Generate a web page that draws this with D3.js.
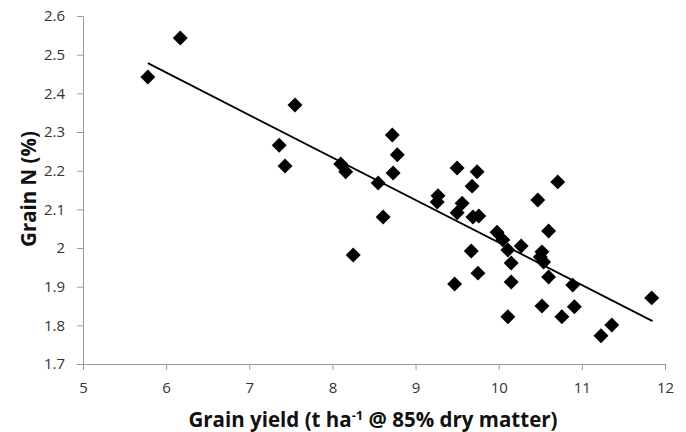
<!DOCTYPE html>
<html>
<head>
<meta charset="utf-8">
<script src="https://cdn.jsdelivr.net/npm/d3@7"></script>
<style>
  body { margin: 0; background: #fff; }
  .tick text { font-family: "Open Sans", "Liberation Sans", sans-serif; font-size: 15px; fill: #333; }
  .title { font-family: "Open Sans", "Liberation Sans", sans-serif; font-size: 20.5px; font-weight: bold; fill: #111; }
</style>
</head>
<body>
<div id="chart"></div>
<script>
var svgWidth = 686;
var svgHeight = 432;

// grain yield (t/ha) and grain N (%)
var grainYield = [5.78, 6.17, 7.55, 7.36, 7.43, 8.10, 8.16, 8.25, 8.72, 8.78, 8.73, 8.55, 8.61,
    9.50, 9.74, 9.68, 9.27, 9.26, 9.56, 9.50, 9.69, 9.76, 10.71, 10.47, 9.98, 10.05, 10.11,
    10.27, 10.60, 10.52, 10.50, 10.54, 9.67, 10.15, 9.75, 10.60, 10.89, 9.47, 10.15, 10.52,
    10.91, 10.11, 10.76, 11.36, 11.23, 11.84];
var grainN = [2.442, 2.543, 2.370, 2.266, 2.212, 2.217, 2.197, 1.982, 2.292, 2.241, 2.194, 2.168, 2.080,
    2.207, 2.197, 2.160, 2.135, 2.119, 2.116, 2.091, 2.080, 2.083, 2.171, 2.124, 2.041, 2.021, 1.995,
    2.005, 2.044, 1.990, 1.977, 1.964, 1.992, 1.961, 1.935, 1.925, 1.904, 1.907, 1.912, 1.850,
    1.848, 1.822, 1.822, 1.801, 1.773, 1.871];

// linear trend line ends
var trendX = [5.78, 11.85];
var trendY = [2.478, 1.811];

var xTicks = [5, 6, 7, 8, 9, 10, 11, 12];
var yTicks = [1.7, 1.8, 1.9, 2.0, 2.1, 2.2, 2.3, 2.4, 2.5, 2.6];

var margin = { top: 16, bottom: 68, left: 83, right: 21 };
var chartWidth = svgWidth - margin.left - margin.right;
var chartHeight = svgHeight - margin.top - margin.bottom;

var svg = d3.select("#chart")
    .append("svg")
    .attr("width", svgWidth)
    .attr("height", svgHeight);

var chartGroup = svg.append("g")
    .attr("transform", `translate(${margin.left}, ${margin.top})`);

var xScale = d3.scaleLinear().domain([5, 12]).range([0, chartWidth]);
var yScale = d3.scaleLinear().domain([1.7, 2.6]).range([chartHeight, 0]);

var bottomAxis = d3.axisBottom(xScale).tickValues(xTicks).tickSize(6).tickPadding(12)
    .tickFormat(d3.format("d"));
var leftAxis = d3.axisLeft(yScale).tickValues(yTicks).tickSize(6).tickPadding(12)
    .tickFormat(d => d3.format(".1f")(d).replace(/\.0$/, ""));

var gx = chartGroup.append("g")
    .attr("transform", `translate(0, ${chartHeight})`)
    .call(bottomAxis);
var gy = chartGroup.append("g").call(leftAxis);

[gx, gy].forEach(g => {
    g.select(".domain").attr("stroke", "#9a9a9a");
    g.selectAll(".tick line").attr("stroke", "#9a9a9a");
});

var points = grainYield.map((x, i) => ({ x: x, y: grainN[i] }));

var diamond = d3.symbol().type(d3.symbolSquare).size(112);

chartGroup.selectAll(".pt")
    .data(points)
    .enter()
    .append("path")
    .attr("class", "pt")
    .attr("d", diamond)
    .attr("transform", d => `translate(${xScale(d.x)}, ${yScale(d.y)}) rotate(45)`)
    .attr("fill", "#000");

chartGroup.append("line")
    .attr("x1", xScale(trendX[0]))
    .attr("y1", yScale(trendY[0]))
    .attr("x2", xScale(trendX[1]))
    .attr("y2", yScale(trendY[1]))
    .attr("stroke", "#000")
    .attr("stroke-width", 1.8);

svg.append("text")
    .attr("class", "title")
    .attr("text-anchor", "middle")
    .attr("transform", "translate(36, 189) rotate(-90)")
    .text("Grain N (%)");

var xt = svg.append("text")
    .attr("class", "title")
    .attr("text-anchor", "middle")
    .attr("x", 373)
    .attr("y", 427);
xt.append("tspan").text("Grain yield (t ha");
xt.append("tspan").attr("dy", -7).attr("font-size", 13).text("-1");
xt.append("tspan").attr("dy", 7).text(" @ 85% dry matter)");
</script>
</body>
</html>
